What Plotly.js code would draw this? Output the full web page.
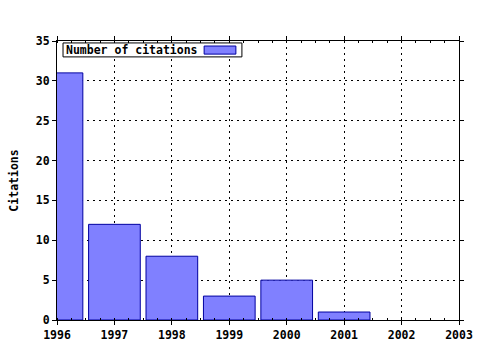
<!DOCTYPE html>
<html>
<head>
<meta charset="utf-8">
<script src="https://cdn.plot.ly/plotly-3.0.1.min.js"></script>
<style>html,body{margin:0;padding:0;background:#fff;}#chart{width:480px;height:350px;}</style>
</head>
<body>
<div id="chart"></div>
<script>
const years = [1996, 1997, 1998, 1999, 2000, 2001];
const citations = [31, 12, 8, 3, 5, 1];
const seriesName = "Number of citations";
const yTitle = "Citations";

const font = {family: "DejaVu Sans Mono, monospace", size: 11.5, color: "#000", weight: "bold"};

const data = [{
  type: "bar",
  x: years,
  y: citations,
  width: 0.9,
  name: seriesName,
  marker: {color: "#8080ff", line: {color: "#0000a0", width: 1}},
  showlegend: false,
  hoverinfo: "skip"
}];

const axisCommon = {
  showline: true, linecolor: "#000", linewidth: 1, mirror: "ticks",
  ticks: "outside", ticklen: 4, tickcolor: "#000", tickwidth: 1,
  showgrid: true, gridcolor: "#000", griddash: "2px,4px", gridwidth: 1,
  zeroline: false, tickfont: font, fixedrange: true
};

const layout = {
  width: 480, height: 350,
  margin: {l: 57, r: 21, t: 41, b: 30},
  paper_bgcolor: "#fff", plot_bgcolor: "#fff",
  bargap: 0,
  font: font,
  xaxis: Object.assign({}, axisCommon, {
    range: [1996, 2003], dtick: 1, tick0: 1996,
    minor: {dtick: 0.25, ticks: "inside", ticklen: 2, tickcolor: "#000", showgrid: false}
  }),
  yaxis: Object.assign({}, axisCommon, {
    range: [0, 35], dtick: 5, tick0: 0,
    title: {text: yTitle, font: font, standoff: 14}
  }),
  annotations: [{
    xref: "paper", yref: "paper", x: 0.018, y: 0.968, xanchor: "left", yanchor: "middle",
    text: seriesName, showarrow: false, font: font
  }],
  shapes: [{
    type: "rect", xref: "paper", yref: "paper",
    x0: 0.015, x1: 0.460, y0: 0.943, y1: 0.993,
    fillcolor: "#fff", line: {color: "#000", width: 1}, layer: "above"
  }, {
    type: "rect", xref: "paper", yref: "paper",
    x0: 0.366, x1: 0.445, y0: 0.953, y1: 0.982,
    fillcolor: "#8080ff", line: {color: "#0000a0", width: 1}, layer: "above"
  }]
};

Plotly.newPlot("chart", data, layout, {staticPlot: true});
</script>
</body>
</html>
